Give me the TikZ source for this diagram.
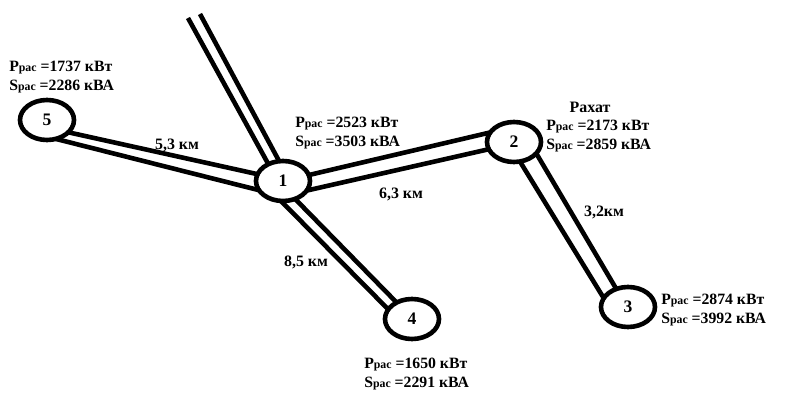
\documentclass[tikz,border=0pt]{standalone}
\usepackage{fontspec}
\setmainfont{Liberation Serif}
\usetikzlibrary{shapes.geometric}
\newcommand{\rasload}[2]{P{\fontsize{8.4}{8.4}\selectfont рас} =#1 кВт\\S{\fontsize{8.4}{8.4}\selectfont рас} =#2 кВА}
\tikzset{
	bus/.style={draw, ellipse, line width=0.115cm, minimum width=1.35cm, minimum height=1cm,
		inner sep=0, outer sep=0, font=\fontsize{12.5}{14}\selectfont\bfseries},
	feeder/.style={line width=0.115cm},
	load/.style={anchor=west, align=left, inner sep=0, font=\fontsize{11.2}{13.5}\selectfont\bfseries},
	dist/.style={inner sep=0, font=\fontsize{11.3}{13}\selectfont\bfseries}
}
\begin{document}
\begin{tikzpicture}[x=0.025cm, y=-0.025cm]
	\useasboundingbox (0,0) rectangle (801,405);

	\node[bus] (n1) at (283,181) {1};
	\node[bus] (n2) at (514,142) {2};
	\node[bus] (n3) at (628,307) {3};
	\node[bus] (n4) at (412,319) {4};
	\node[bus] (n5) at (47,120) {5};
	\coordinate (inA) at (188,18);
	\coordinate (inB) at (200,14);

	\draw[feeder] (inA) -- (n1.131.5);
	\draw[feeder] (inB) -- (n1.101);

	\draw[feeder] (n5.-30) -- (n1.165);
	\draw[feeder] (n5.-65) -- (n1.201.6);

	\draw[feeder] (n1.13.6) -- (n2.158.4);
	\draw[feeder] (n1.-22.6) -- (n2.196.7);

	\draw[feeder] (n2.-73) -- (n3.160);
	\draw[feeder] (n2.-27.6) -- (n3.123.2);

	\draw[feeder] (n1.-96) -- (n4.158);
	\draw[feeder] (n1.-56) -- (n4.133);

	\node[load] (load5) at (9,77.5) {\rasload{1737}{2286}};
	\node[load] (load1) at (295,133.5) {\rasload{2523}{3503}};
	\node[load] (load2) at (546,136.5) {\rasload{2173}{2859}};
	\node[load] (load3) at (661,310.5) {\rasload{2874}{3992}};
	\node[load] (load4) at (364,374.5) {\rasload{1650}{2291}};
	\node[dist] (rahat) at (590,107) {Рахат};

	\node[dist] (len51) at (177,145) {5,3 км};
	\node[dist] (len12) at (401,194) {6,3 км};
	\node[dist] (len23) at (604,212) {3,2км};
	\node[dist] (len14) at (306,262) {8,5 км};
\end{tikzpicture}
\end{document}
